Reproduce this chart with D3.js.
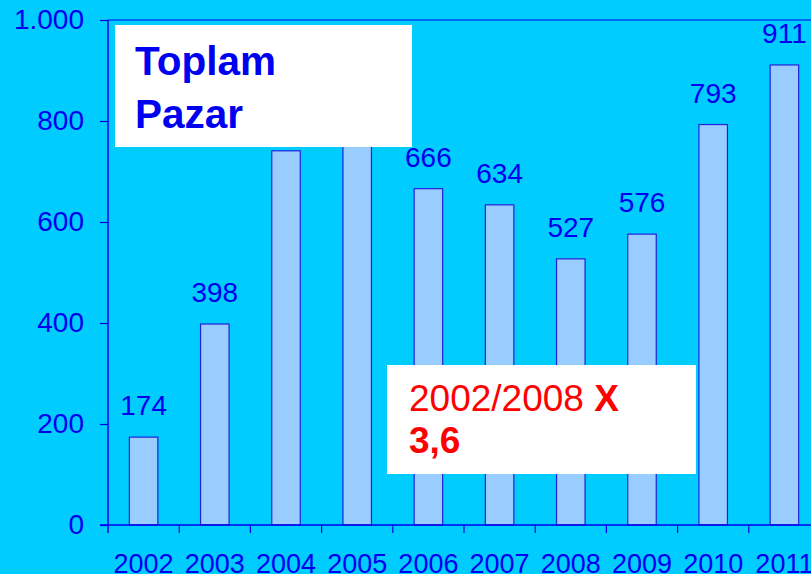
<!DOCTYPE html>
<html><head><meta charset="utf-8">
<script src="https://cdn.jsdelivr.net/npm/d3@7"></script>
<style>html,body{margin:0;padding:0;background:#00CCFF;overflow:hidden}svg{display:block}</style>
</head><body>
<svg id="c" width="811" height="574"></svg>
<script>
const years = ["2002","2003","2004","2005","2006","2007","2008","2009","2010","2011"];
const values = [174, 398, 741, 759, 666, 634, 527, 576, 793, 911];
const yTicks = [0, 200, 400, 600, 800, 1000];
const yTickLabels = ["0", "200", "400", "600", "800", "1.000"];
const titleLines = ["Toplam", "Pazar"];

const svg = d3.select("#c");
const W = 811, H = 574;
const blue = "#0000F0", font = "'Liberation Sans', Arial, sans-serif";
svg.append("rect").attr("width", W).attr("height", H).attr("fill", "#00CCFF");

const x0 = 108, bandW = 71.2;
const x = d3.scaleBand().domain(years).range([x0, x0 + bandW * years.length]).paddingInner(0).paddingOuter(0);
const y = d3.scaleLinear().domain([0, 1000]).range([525, 20]);

// top border line
svg.append("line").attr("x1", x0).attr("x2", W).attr("y1", y(1000)).attr("y2", y(1000)).attr("stroke", blue).attr("stroke-width", 1.2);

// bars
const bw = 28.5;
svg.selectAll("rect.bar").data(years).join("rect").attr("class", "bar")
  .attr("x", d => x(d) + x.bandwidth() / 2 - bw / 2)
  .attr("y", (d, i) => y(values[i]))
  .attr("width", bw)
  .attr("height", (d, i) => y(0) - y(values[i]))
  .attr("fill", "#99CCFF").attr("stroke", "#2222DD").attr("stroke-width", 1.2);

// value labels
svg.selectAll("text.val").data(years).join("text").attr("class", "val")
  .attr("x", d => x(d) + x.bandwidth() / 2)
  .attr("y", (d, i) => y(values[i]) - 22)
  .attr("text-anchor", "middle").attr("font-family", font).attr("font-size", 28).attr("fill", blue)
  .text((d, i) => values[i]);

// y axis
const yAxis = d3.axisLeft(y).tickValues(yTicks).tickSize(8).tickPadding(16)
  .tickFormat((d, i) => yTickLabels[i]);
const gy = svg.append("g").attr("transform", `translate(${x0},0)`).call(yAxis);
gy.select(".domain").remove();
gy.selectAll(".tick line").attr("stroke", blue).attr("stroke-width", 1.2);
gy.selectAll("text").attr("font-family", font).attr("font-size", 28).attr("fill", blue);
svg.append("line").attr("x1", x0).attr("x2", x0).attr("y1", y(1000)).attr("y2", 533).attr("stroke", blue).attr("stroke-width", 1.5);

// x axis
svg.append("line").attr("x1", 100).attr("x2", W).attr("y1", y(0)).attr("y2", y(0)).attr("stroke", blue).attr("stroke-width", 1.5);
svg.selectAll("line.xt").data(years.slice(1)).join("line").attr("class", "xt")
  .attr("x1", d => x(d)).attr("x2", d => x(d)).attr("y1", y(0)).attr("y2", 533)
  .attr("stroke", blue).attr("stroke-width", 1.2);
svg.selectAll("text.xl").data(years).join("text").attr("class", "xl")
  .attr("x", d => x(d) + x.bandwidth() / 2).attr("y", 573)
  .attr("text-anchor", "middle").attr("font-family", font).attr("font-size", 27).attr("fill", blue)
  .text(d => d);

// title box
svg.append("rect").attr("x", 115).attr("y", 25).attr("width", 297).attr("height", 122).attr("fill", "#FFFFFF");
svg.selectAll("text.tt").data(titleLines).join("text").attr("class", "tt")
  .attr("x", 135).attr("y", (d, i) => 75 + i * 53)
  .attr("font-family", font).attr("font-size", 40.5).attr("font-weight", "bold").attr("fill", blue)
  .text(d => d);

// annotation box
svg.append("rect").attr("x", 387).attr("y", 365).attr("width", 309).attr("height", 109).attr("fill", "#FFFFFF");
const t1 = svg.append("text").attr("x", 409).attr("y", 411).attr("font-family", font).attr("font-size", 37).attr("fill", "#FF0000");
t1.append("tspan").text("2002/2008 ");
t1.append("tspan").attr("font-weight", "bold").text("X");
svg.append("text").attr("x", 409).attr("y", 453).attr("font-family", font).attr("font-size", 37)
  .attr("font-weight", "bold").attr("fill", "#FF0000").text("3,6");
</script>
</body></html>
